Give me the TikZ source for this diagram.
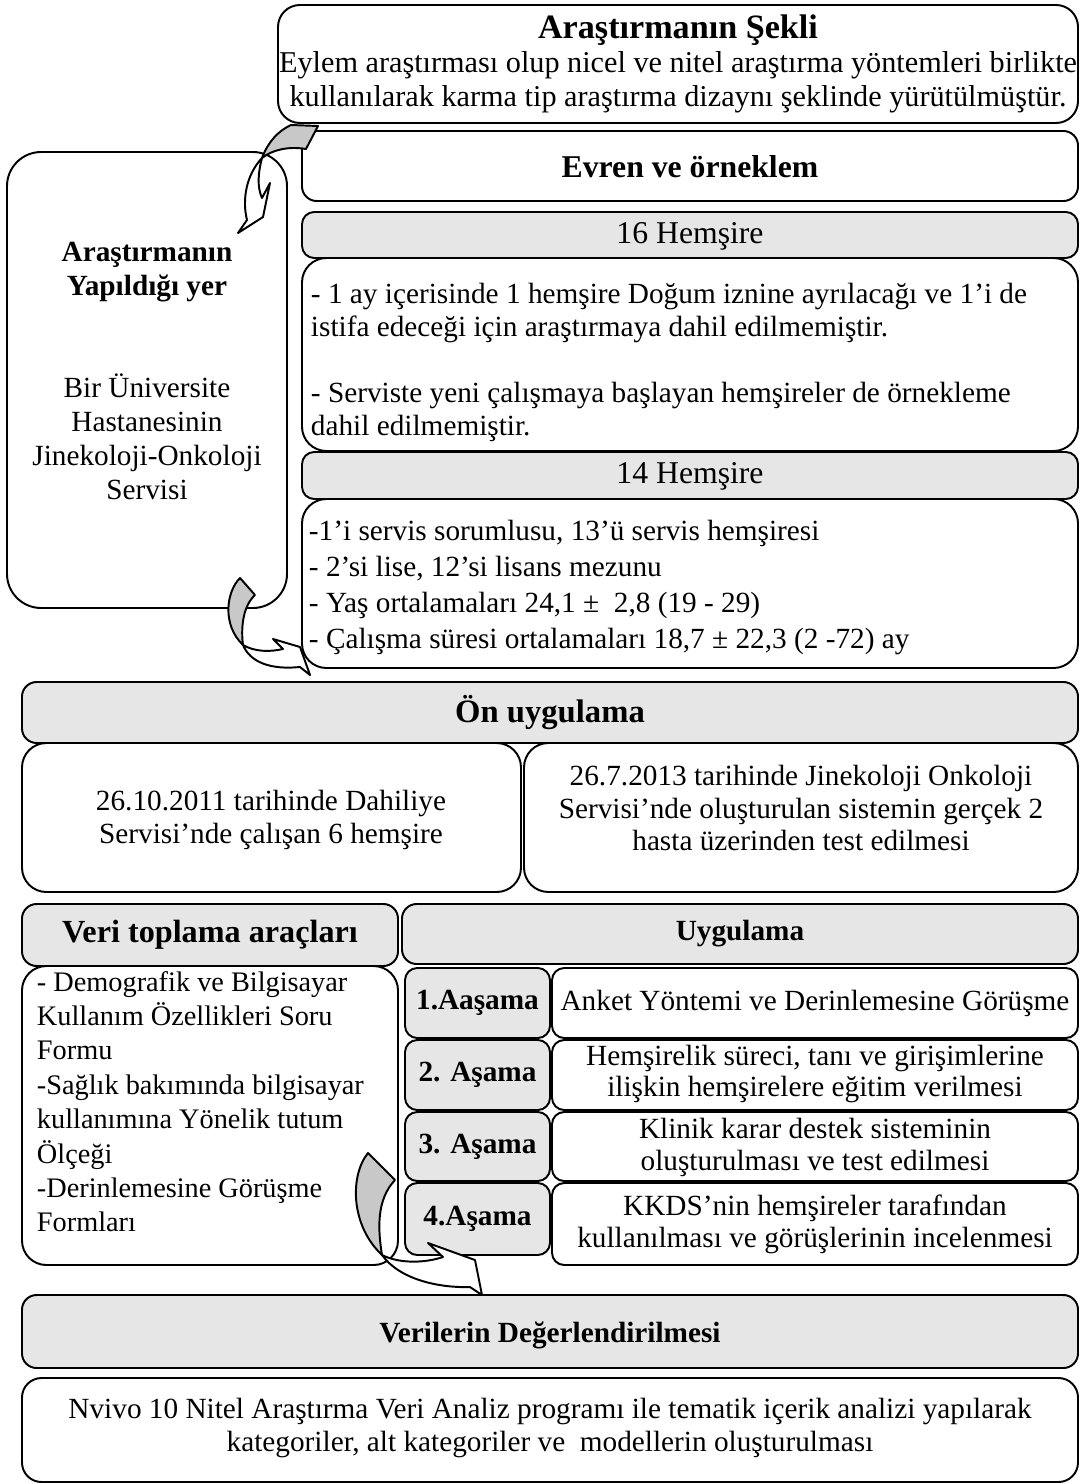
\documentclass[tikz,border=0pt]{standalone}
\usepackage{fontspec}
\setmainfont{Liberation Serif}
\definecolor{hdr}{HTML}{E6E6E6}
\definecolor{arw}{HTML}{C8C8C8}
% name, style, x1, y1, x2, y2 (pixel units, y downward)
\newcommand\pxbox[6]{\node[#2, anchor=north west, minimum width={(#5-#3)*0.41pt}, minimum height={(#6-#4)*0.41pt}] (#1) at (#3,#4) {};}
\begin{document}
\begin{tikzpicture}[x=0.41pt, y=-0.41pt, line width=0.8pt,
  wbox/.style={draw, fill=white, rounded corners=#1, inner sep=0pt, outer sep=0pt},
  gbox/.style={draw, fill=hdr, rounded corners=#1, inner sep=0pt, outer sep=0pt},
  txt/.style={inner sep=0pt, font=\fontsize{12}{13.9}\selectfont},
  bold/.style={inner sep=0pt, font=\fontsize{12}{13.9}\selectfont\bfseries},
  curv/.style={draw, fill=arw, line join=round},
  curw/.style={draw, fill=white, line join=round}]
\useasboundingbox (0,0) rectangle (1081,1484);
\fill[white] (0,0) rectangle (1081,1484);

% boxes
\pxbox{sekli}{wbox=9pt}{278}{5}{1078}{123}
\pxbox{evren}{wbox=6pt}{302}{131}{1078}{201}
\pxbox{h16}{gbox=5pt}{302}{212}{1078}{258}
\pxbox{b16}{wbox=10pt}{302}{258}{1078}{451}
\pxbox{h14}{gbox=5pt}{302}{452}{1078}{499}
\pxbox{b14}{wbox=10pt}{302}{499}{1078}{668}
\pxbox{yer}{wbox=14pt}{7}{152}{287}{608}
\pxbox{on}{gbox=6pt}{22}{682}{1078}{743}
\pxbox{onl}{wbox=10pt}{22}{743}{521}{892}
\pxbox{onr}{wbox=10pt}{524}{743}{1078}{892}
\pxbox{veri}{gbox=6pt}{22}{904}{398}{966}
\pxbox{uyg}{gbox=6pt}{402}{904}{1078}{964}
\pxbox{veric}{wbox=10pt}{22}{966}{398}{1265}
\pxbox{s1}{gbox=5pt}{405}{968}{550}{1038}
\pxbox{d1}{wbox=5pt}{552}{968}{1078}{1038}
\pxbox{s2}{gbox=5pt}{405}{1040}{550}{1110}
\pxbox{d2}{wbox=5pt}{552}{1040}{1078}{1110}
\pxbox{s3}{gbox=5pt}{405}{1112}{550}{1181}
\pxbox{d3}{wbox=5pt}{552}{1112}{1078}{1181}
\pxbox{s4}{gbox=5pt}{405}{1183}{550}{1255}
\pxbox{d4}{wbox=5pt}{552}{1183}{1078}{1265}
\pxbox{deg}{gbox=6pt}{22}{1295}{1078}{1368}
\pxbox{nv}{wbox=8pt}{22}{1378}{1078}{1482}

% texts
\node[txt, align=center, font=\fontsize{12.4}{13.9}\selectfont] (tsekli) at (678,64) {{\fontsize{14}{13.9}\selectfont\bfseries Araştırmanın Şekli}\\Eylem araştırması olup nicel ve nitel araştırma yöntemleri birlikte\\kullanılarak karma tip araştırma dizaynı şeklinde yürütülmüştür.};
\node[inner sep=0pt, font=\fontsize{13}{15}\selectfont\bfseries] (tevren) at (690,167) {Evren ve örneklem};
\node[txt, font=\fontsize{13}{15}\selectfont] (t16) at (690,236) {16 Hemşire};
\node[txt, align=left, anchor=north west, font=\fontsize{12}{13.6}\selectfont] (tb16) at (310,279) {\strut- 1 ay içerisinde 1 hemşire Doğum iznine ayrılacağı ve 1’i de\\istifa edeceği için araştırmaya dahil edilmemiştir.\\[13.6pt]- Serviste yeni çalışmaya başlayan hemşireler de örnekleme\\dahil edilmemiştir.};
\node[txt, font=\fontsize{13}{15}\selectfont] (t14) at (690,476) {14 Hemşire};
\node[txt, align=left, anchor=north west, font=\fontsize{12}{14.8}\selectfont] (tb14) at (308,514) {\strut-1’i servis sorumlusu, 13’ü servis hemşiresi\\- 2’si lise, 12’si lisans mezunu\\- Yaş ortalamaları 24,1 ±~ 2,8 (19 - 29)\\- Çalışma süresi ortalamaları 18,7 ± 22,3 (2 -72) ay};
\node[txt, align=center] (tyer) at (147,371) {\textbf{Araştırmanın}\\\textbf{Yapıldığı yer}\\[27.8pt]Bir Üniversite\\Hastanesinin\\Jinekoloji-Onkoloji\\Servisi};
\node[inner sep=0pt, font=\fontsize{13.4}{15}\selectfont\bfseries] (ton) at (550,713) {Ön uygulama};
\node[txt, align=center, font=\fontsize{12}{13.5}\selectfont] (tonl) at (271,820) {26.10.2011 tarihinde Dahiliye\\Servisi’nde çalışan 6 hemşire};
\node[txt, align=center, font=\fontsize{12}{13.5}\selectfont] (tonr) at (801,808) {26.7.2013 tarihinde Jinekoloji Onkoloji\\Servisi’nde oluşturulan sistemin gerçek 2\\hasta üzerinden test edilmesi};
\node[inner sep=0pt, font=\fontsize{13.2}{15}\selectfont\bfseries] (tveri) at (210,935) {Veri toplama araçları};
\node[bold] (tuyg) at (740,934) {Uygulama};
\node[txt, align=left, anchor=north west, font=\fontsize{11.6}{14.1}\selectfont] (tveric) at (36,966) {\strut- Demografik ve Bilgisayar\\Kullanım Özellikleri Soru\\Formu\\-Sağlık bakımında bilgisayar\\kullanımına Yönelik tutum\\Ölçeği\\-Derinlemesine Görüşme\\Formları};
\node[bold] (ts1) at (477.5,1003) {1.Aaşama};
\node[bold] (ts2) at (477.5,1075) {2. Aşama};
\node[bold] (ts3) at (477.5,1146.5) {3. Aşama};
\node[bold] (ts4) at (477.5,1219) {4.Aşama};
\node[txt] (td1) at (815,1003) {Anket Yöntemi ve Derinlemesine Görüşme};
\node[txt, align=center, font=\fontsize{12}{13.1}\selectfont] (td2) at (815,1074) {Hemşirelik süreci, tanı ve girişimlerine\\ilişkin hemşirelere eğitim verilmesi};
\node[txt, align=center, font=\fontsize{12}{13.1}\selectfont] (td3) at (815,1147) {Klinik karar destek sisteminin\\oluşturulması ve test edilmesi};
\node[txt, align=center, font=\fontsize{12}{13.1}\selectfont] (td4) at (815,1224) {KKDS’nin hemşireler tarafından\\kullanılması ve görüşlerinin incelenmesi};
\node[bold] (tdeg) at (550,1335) {Verilerin Değerlendirilmesi};
\node[txt, align=center, font=\fontsize{12}{13.4}\selectfont] (tnv) at (550,1428) {Nvivo 10 Nitel Araştırma Veri Analiz programı ile tematik içerik analizi yapılarak\\kategoriler, alt kategoriler ve~ modellerin oluşturulması};

% curved arrows
\path[curv] (291,125) -- (318,126) -- (306,149) .. controls (288,146) and (272,150) .. (262,158) .. controls (268,142) and (278,131) .. cycle;
\path[curw] (262,158) .. controls (258,173) and (257,187) .. (262,198) -- (270,183) -- (263,217) -- (238,233) -- (247,220) .. controls (242,200) and (246,175) .. (262,158) -- cycle;

\path[curv] (240,578) -- (255,595) .. controls (242,607) and (241,630) .. (243,645) .. controls (222,625) and (226,592) .. cycle;
\path[curw] (243,645) .. controls (255,652) and (270,652) .. (283,649) -- (273,639) -- (300,647) -- (310,675) -- (300,667) .. controls (270,670) and (250,662) .. (243,645) -- cycle;

\path[curv] (368,1153) -- (395,1180) .. controls (376,1200) and (378,1230) .. (382,1255) .. controls (350,1225) and (350,1175) .. cycle;
\path[curw] (382,1255) .. controls (400,1264) and (425,1263) .. (443,1257) -- (428,1243) -- (475,1260) -- (482,1295) -- (470,1287) .. controls (440,1288) and (400,1280) .. (382,1255) -- cycle;
\end{tikzpicture}
\end{document}
